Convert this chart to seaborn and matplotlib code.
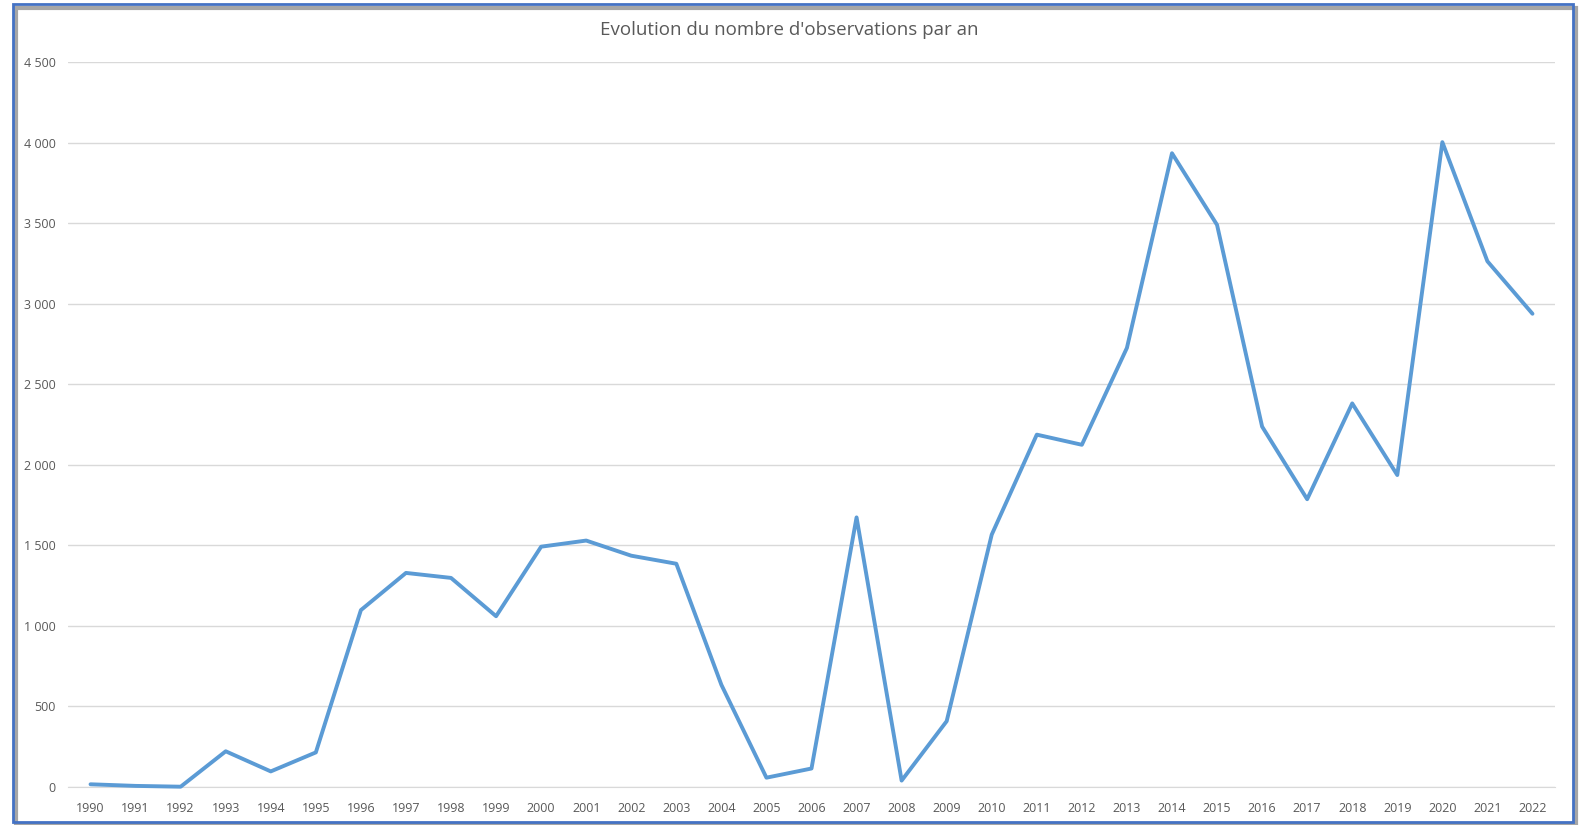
import matplotlib
matplotlib.use("Agg")
import matplotlib.pyplot as plt
from matplotlib.patches import Rectangle
from matplotlib.ticker import FuncFormatter
import seaborn as sns
import pandas as pd

years = [1990, 1991, 1992, 1993, 1994, 1995, 1996, 1997, 1998, 1999, 2000,
         2001, 2002, 2003, 2004, 2005, 2006, 2007, 2008, 2009, 2010, 2011,
         2012, 2013, 2014, 2015, 2016, 2017, 2018, 2019, 2020, 2021, 2022]
observations = [15, 5, 0, 220, 95, 213, 1097, 1328, 1297, 1059, 1491,
                1529, 1435, 1385, 633, 56, 113, 1673, 38, 407, 1566, 2187,
                2124, 2726, 3935, 3490, 2237, 1786, 2381, 1936, 4004, 3264, 2938]
y_ticks = [0, 500, 1000, 1500, 2000, 2500, 3000, 3500, 4000, 4500]

df = pd.DataFrame({"pos": range(len(years)), "obs": observations})

sns.set_style("white")
plt.rcParams["font.family"] = ["Open Sans", "DejaVu Sans"]
text_col = "#595959"
grid_col = "#D9D9D9"

fig = plt.figure(figsize=(15.82, 8.25), dpi=100)
ax = fig.add_axes([68 / 1582, 1 - 786.7 / 825, (1555 - 68) / 1582, (786.7 - 62.3) / 825])

sns.lineplot(data=df, x="pos", y="obs", ax=ax, color="#5B9BD5", linewidth=2.8,
             clip_on=False, zorder=3)

ax.set_xlim(-0.5, len(years) - 0.5)
ax.set_ylim(0, 4500)
ax.set_yticks(y_ticks)
ax.yaxis.set_major_formatter(FuncFormatter(lambda v, p: f"{int(v):,}".replace(",", " ")))
ax.set_xticks(range(len(years)))
ax.set_xticklabels([str(y) for y in years])
ax.grid(axis="y", color=grid_col, linewidth=1)
ax.set_axisbelow(True)
for s in ["top", "right", "left"]:
    ax.spines[s].set_visible(False)
ax.spines["bottom"].set_color(grid_col)
ax.tick_params(axis="both", length=0, colors=text_col, labelsize=9)
ax.tick_params(axis="x", pad=11)
ax.tick_params(axis="y", pad=9)
ax.set_xlabel("")
ax.set_ylabel("")

fig.text(789 / 1582, 1 - 30 / 825, "Evolution du nombre d'observations par an",
         ha="center", va="center", fontsize=13.5, color=text_col)

# cadre du graphique avec ombre
fig.patches.append(Rectangle((16 / 1582, 0), 1560 / 1582, 1 - 8 / 825,
                             transform=fig.transFigure, fill=False,
                             edgecolor="#A6A6A6", linewidth=3, zorder=0))
fig.patches.append(Rectangle((13 / 1582, 3 / 825), 1560 / 1582, 1 - 7 / 825,
                             transform=fig.transFigure, fill=False,
                             edgecolor="#4472C4", linewidth=2, zorder=1))

fig.savefig("out.png", dpi=100)
